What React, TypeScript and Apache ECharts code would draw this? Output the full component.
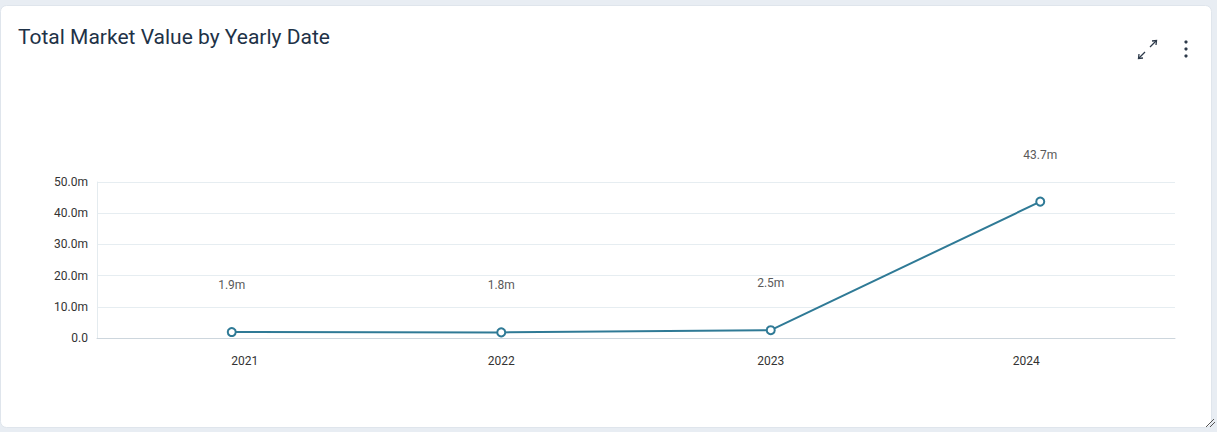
import React, { useEffect, useRef } from "react";
import * as echarts from "echarts";

const categories = ["2021", "2022", "2023", "2024"];
const values = [1.9, 1.8, 2.5, 43.7]; // millions
const yTicks = { min: 0, max: 50, interval: 10 };

const W = 1217;
const H = 432;

export default function App() {
  const ref = useRef<HTMLDivElement>(null);
  useEffect(() => {
    document.body.style.margin = "0";
    const chart = echarts.init(ref.current!, null, { renderer: "svg", width: W, height: H });
    const shifts = [13, 0, 0, -14];
    chart.setOption({
      animation: false,
      backgroundColor: "#e8edf3",
      graphic: [
        {
          type: "rect",
          shape: { x: 0.5, y: 5.5, width: 1211, height: 422, r: 6 },
          style: { fill: "#ffffff", stroke: "#dfe5ec", lineWidth: 1 },
          z: -10,
        },
        {
          type: "text",
          x: 18,
          y: 26,
          style: {
            text: "Total Market Value by Yearly Date",
            fill: "#1e3247",
            font: "21px Roboto, 'Noto Sans', sans-serif",
          },
        },
        // expand icon
        { type: "line", shape: { x1: 1150, y1: 47, x2: 1156, y2: 41 }, style: { stroke: "#2d3a4a", lineWidth: 1.3 } },
        { type: "polyline", shape: { points: [[1152, 41], [1156.5, 40.5], [1156, 45]] }, style: { stroke: "#2d3a4a", lineWidth: 1.3, fill: null } },
        { type: "line", shape: { x1: 1145, y1: 52, x2: 1139, y2: 58 }, style: { stroke: "#2d3a4a", lineWidth: 1.3 } },
        { type: "polyline", shape: { points: [[1139, 54], [1138.5, 58.5], [1143, 58]] }, style: { stroke: "#2d3a4a", lineWidth: 1.3, fill: null } },
        // kebab
        { type: "circle", shape: { cx: 1186, cy: 42, r: 1.6 }, style: { fill: "#2d3a4a" } },
        { type: "circle", shape: { cx: 1186, cy: 49, r: 1.6 }, style: { fill: "#2d3a4a" } },
        { type: "circle", shape: { cx: 1186, cy: 56, r: 1.6 }, style: { fill: "#2d3a4a" } },
        // resize handle
        { type: "line", shape: { x1: 1206, y1: 427, x2: 1214, y2: 419 }, style: { stroke: "#555", lineWidth: 1 } },
        { type: "line", shape: { x1: 1210, y1: 427, x2: 1215, y2: 422 }, style: { stroke: "#555", lineWidth: 1 } },
      ],
      grid: { left: 97, right: 42, top: 182, bottom: 94 },
      xAxis: {
        type: "category",
        data: categories,
        boundaryGap: true,
        axisLine: { lineStyle: { color: "#cdd6dd" } },
        axisTick: { show: false },
        axisLabel: {
          margin: 17,
          color: "#333",
          fontSize: 12,
          fontFamily: "Roboto, 'Noto Sans', sans-serif",
          formatter: (v: string, i: number) => {
            const s = shifts[i] || 0;
            if (s > 0) return `{r|${v}}`;
            if (s < 0) return `{l|${v}}`;
            return v;
          },
          rich: {
            r: { padding: [0, 0, 0, 26], fontSize: 12, color: "#333" },
            l: { padding: [0, 28, 0, 0], fontSize: 12, color: "#333" },
          },
        },
      },
      yAxis: {
        type: "value",
        min: yTicks.min,
        max: yTicks.max,
        interval: yTicks.interval,
        axisLine: { show: true, lineStyle: { color: "#e4ebef" } },
        axisTick: { show: false },
        splitLine: { lineStyle: { color: "#e6edf1" } },
        axisLabel: {
          margin: 9,
          color: "#333",
          fontSize: 12,
          fontFamily: "Roboto, 'Noto Sans', sans-serif",
          formatter: (v: number) => (v === 0 ? "0.0" : v.toFixed(1) + "m"),
        },
      },
      series: [
        {
          type: "line",
          data: values,
          symbol: "emptyCircle",
          symbolSize: 8,
          lineStyle: { color: "#2f7a96", width: 2 },
          itemStyle: { color: "#2f7a96", borderWidth: 2, borderColor: "#2f7a96" },
          label: {
            show: true,
            position: "top",
            distance: 36,
            color: "#5a5a5a",
            fontSize: 12,
            fontFamily: "Roboto, 'Noto Sans', sans-serif",
            formatter: (p: any) => p.value.toFixed(1) + "m",
          },
        },
      ],
    });
    return () => chart.dispose();
  }, []);
  return <div ref={ref} style={{ width: W, height: H }} />;
}
